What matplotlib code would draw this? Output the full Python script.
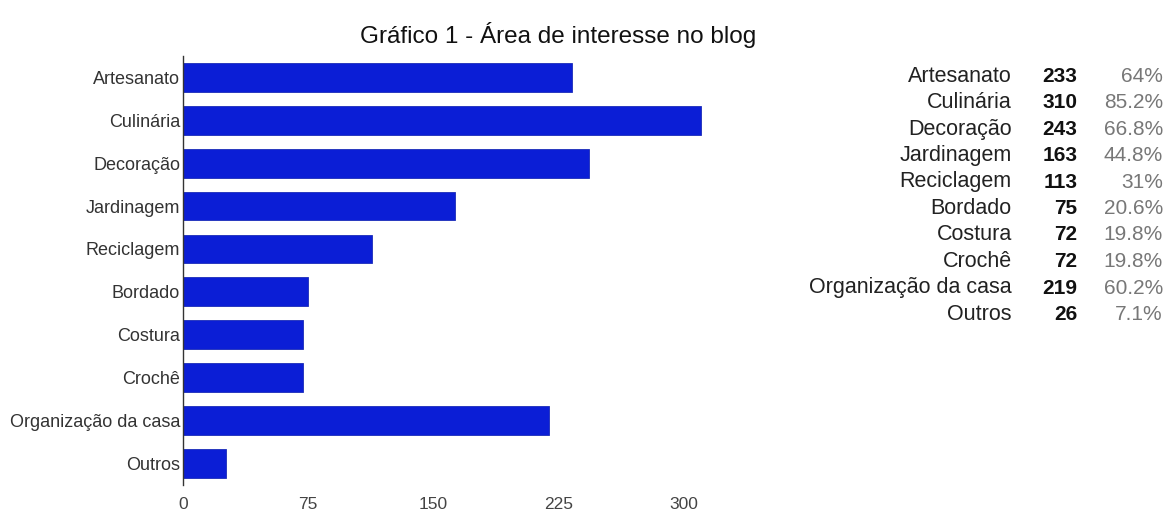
import matplotlib.pyplot as plt

categorias = ['Artesanato', 'Culinária', 'Decoração', 'Jardinagem', 'Reciclagem',
              'Bordado', 'Costura', 'Crochê', 'Organização da casa', 'Outros']
respostas = [233, 310, 243, 163, 113, 75, 72, 72, 219, 26]
percentuais = ['64%', '85.2%', '66.8%', '44.8%', '31%', '20.6%', '19.8%', '19.8%', '60.2%', '7.1%']
ticks_x = [0, 75, 150, 225, 300]

plt.rcParams['font.family'] = ['Liberation Sans', 'DejaVu Sans']

fig = plt.figure(figsize=(11.71, 5.18), dpi=100)
ax = fig.add_axes([0.1563, 0.064, 0.4492, 0.828])

pos = range(len(categorias))
ax.barh(pos, respostas, height=0.67, color='#0b1ed6', edgecolor='#1a2bb8', linewidth=0.6)
ax.set_ylim(9.5, -0.5)
ax.set_xlim(0, 315)
ax.set_yticks(list(pos))
ax.set_yticklabels(categorias, fontsize=13, color='#333333')
ax.set_xticks(ticks_x)
ax.set_xticklabels([str(t) for t in ticks_x], fontsize=12.5, color='#444444')
ax.tick_params(axis='both', length=0)
ax.tick_params(axis='x', pad=9)
ax.tick_params(axis='y', pad=2)
for s in ['top', 'right', 'bottom']:
    ax.spines[s].set_visible(False)
ax.spines['left'].set_color('#333333')
ax.spines['left'].set_linewidth(1.0)

fig.text(0.477, 0.932, 'Gráfico 1 - Área de interesse no blog', ha='center', va='center',
         fontsize=17.5, color='#111111')

# tabela à direita
for i, (nome, n, p) in enumerate(zip(categorias, respostas, percentuais)):
    y = 1 - (76 + 26.5 * i) / 518
    fig.text(0.864, y, nome, ha='right', va='center', fontsize=15.5, color='#222222')
    fig.text(0.920, y, str(n), ha='right', va='center', fontsize=15, fontweight='bold', color='#111111')
    fig.text(0.993, y, p, ha='right', va='center', fontsize=15, color='#777777')

fig.savefig('out.png', dpi=100)
